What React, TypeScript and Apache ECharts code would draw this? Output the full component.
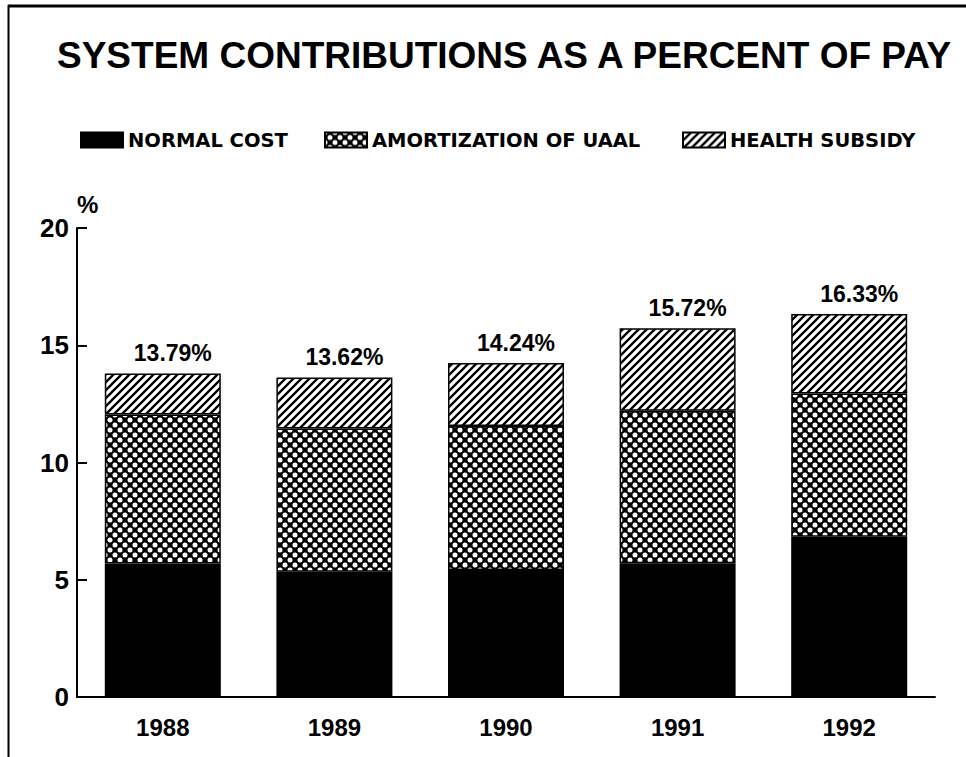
import React, { useEffect, useRef } from "react";
import * as echarts from "echarts";

const categories = ["1988", "1989", "1990", "1991", "1992"];
const normalCost = [5.69, 5.34, 5.42, 5.70, 6.83];
const amortization = [6.36, 6.11, 6.14, 6.51, 6.11];
const healthSubsidy = [1.74, 2.17, 2.68, 3.51, 3.39];
const totals = [13.79, 13.62, 14.24, 15.72, 16.33];
const seriesNames = ["NORMAL COST", "AMORTIZATION OF UAAL", "HEALTH SUBSIDY"];
const titleText = "SYSTEM CONTRIBUTIONS AS A PERCENT OF PAY";

function makeHatch(): HTMLCanvasElement {
  const s = 8;
  const c = document.createElement("canvas");
  c.width = s;
  c.height = s;
  const ctx = c.getContext("2d")!;
  ctx.fillStyle = "#fff";
  ctx.fillRect(0, 0, s, s);
  ctx.strokeStyle = "#000";
  ctx.lineWidth = 2.3;
  ctx.beginPath();
  ctx.moveTo(-1, s + 1);
  ctx.lineTo(s + 1, -1);
  ctx.moveTo(-1, 1);
  ctx.lineTo(1, -1);
  ctx.moveTo(s - 1, s + 1);
  ctx.lineTo(s + 1, s - 1);
  ctx.stroke();
  return c;
}

function makeDots(): HTMLCanvasElement {
  const s = 10;
  const c = document.createElement("canvas");
  c.width = s;
  c.height = s;
  const ctx = c.getContext("2d")!;
  ctx.fillStyle = "#000";
  ctx.fillRect(0, 0, s, s);
  ctx.fillStyle = "#fff";
  const pts = [
    [5, 5],
    [0, 0],
    [s, 0],
    [0, s],
    [s, s],
  ];
  const r = 2.5;
  for (const [x, y] of pts) {
    ctx.beginPath();
    ctx.arc(x, y, r, 0, Math.PI * 2);
    ctx.fill();
  }
  return c;
}

export default function App() {
  const ref = useRef<HTMLDivElement>(null);

  useEffect(() => {
    if (!ref.current) return;
    const chart = echarts.init(ref.current, undefined, { renderer: "svg" });
    const hatch = makeHatch();
    const dots = makeDots();
    const font = "Liberation Sans";
    const legendFont = "DejaVu Sans";
    const baseItem = { borderColor: "#000", borderWidth: 1.5 };

    const legendCommon = {
      top: 130,
      padding: 0,
      itemWidth: 42,
      itemHeight: 15,
      icon: "rect",
      textStyle: {
        fontFamily: legendFont,
        fontWeight: "bold",
        fontSize: 19.5,
        color: "#000",
      },
    };

    chart.setOption({
      animation: false,
      backgroundColor: "#fff",
      title: {
        text: titleText,
        left: 57,
        top: 37,
        padding: 0,
        textStyle: {
          fontFamily: font,
          fontWeight: "bold",
          fontSize: 37,
          color: "#000",
        },
      },
      legend: [
        { ...legendCommon, left: 80, data: [seriesNames[0]] },
        { ...legendCommon, left: 324, data: [seriesNames[1]] },
        { ...legendCommon, left: 682, data: [seriesNames[2]] },
      ],
      grid: { left: 77, right: 31, top: 228, bottom: 60 },
      xAxis: {
        type: "category",
        data: categories,
        axisLine: { lineStyle: { color: "#000", width: 2 } },
        axisTick: { show: false },
        axisLabel: {
          fontFamily: font,
          fontWeight: "bold",
          fontSize: 24,
          color: "#000",
          margin: 18,
        },
      },
      yAxis: {
        type: "value",
        min: 0,
        max: 20,
        interval: 5,
        name: "%",
        nameLocation: "end",
        nameGap: 12,
        nameTextStyle: {
          fontFamily: font,
          fontWeight: "bold",
          fontSize: 24,
          color: "#000",
          align: "left",
        },
        axisLine: { show: true, lineStyle: { color: "#000", width: 2 } },
        axisTick: {
          show: true,
          inside: true,
          length: 10,
          lineStyle: { color: "#000", width: 2 },
        },
        splitLine: { show: false },
        axisLabel: {
          fontFamily: font,
          fontWeight: "bold",
          fontSize: 26,
          color: "#000",
          margin: 8,
        },
      },
      series: [
        {
          name: seriesNames[0],
          type: "bar",
          stack: "total",
          barWidth: "67.6%",
          data: normalCost,
          itemStyle: { ...baseItem, color: "#000" },
        },
        {
          name: seriesNames[1],
          type: "bar",
          stack: "total",
          barWidth: "67.6%",
          data: amortization,
          itemStyle: {
            ...baseItem,
            color: { image: dots, repeat: "repeat" },
          },
        },
        {
          name: seriesNames[2],
          type: "bar",
          stack: "total",
          barWidth: "67.6%",
          data: healthSubsidy,
          itemStyle: {
            ...baseItem,
            color: { image: hatch, repeat: "repeat" },
          },
          label: {
            show: true,
            position: "top",
            distance: 9,
            offset: [10, 0],
            fontFamily: font,
            fontWeight: "bold",
            fontSize: 23,
            color: "#000",
            formatter: (p: any) => `${totals[p.dataIndex].toFixed(2)}%`,
          },
        },
      ],
      graphic: [
        {
          type: "line",
          shape: { x1: 8, y1: 6, x2: 966, y2: 6 },
          style: { stroke: "#000", lineWidth: 3 },
        },
        {
          type: "line",
          shape: { x1: 8.5, y1: 5, x2: 8.5, y2: 757 },
          style: { stroke: "#000", lineWidth: 2 },
        },
      ],
    });

    return () => chart.dispose();
  }, []);

  return (
    <div
      ref={ref}
      style={{ position: "fixed", left: 0, top: 0, width: 966, height: 757 }}
    />
  );
}
